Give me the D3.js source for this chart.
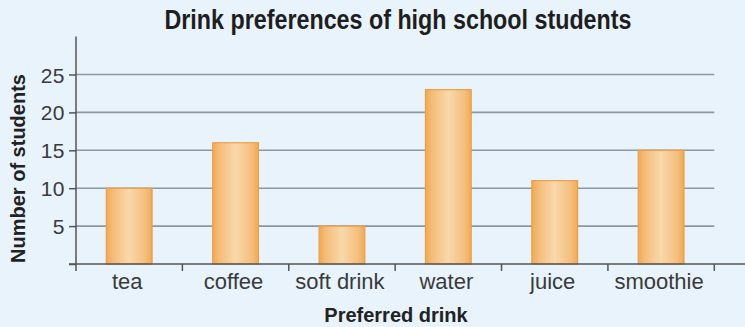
<!DOCTYPE html>
<html><head><meta charset="utf-8">
<script src="https://cdn.jsdelivr.net/npm/d3@7"></script>
<style>
html,body{margin:0;padding:0;background:#e8f3fb;}
svg{display:block;}
</style></head>
<body>
<svg id="chart" width="745" height="327"></svg>
<script>
const categories = ["tea", "coffee", "soft drink", "water", "juice", "smoothie"];
const values = [10, 16, 5, 23, 11, 15];
const yTicks = [5, 10, 15, 20, 25];
const title = "Drink preferences of high school students";
const xTitle = "Preferred drink";
const yTitle = "Number of students";

const svg = d3.select("#chart");
const W = 745, H = 327;
const mLeft = 76, mRight = 714.3, mTop = 36.6, mBottom = 264;

const x = d3.scaleBand().domain(categories).range([mLeft, mRight]).paddingInner(0.57).paddingOuter(0.285);
const y = d3.scaleLinear().domain([0, 30]).range([mBottom, mTop]);

svg.append("rect").attr("width", W).attr("height", H).attr("fill", "#e8f3fb");

const defs = svg.append("defs");
const grad = defs.append("linearGradient").attr("id", "barGrad").attr("x1", "0").attr("x2", "1").attr("y1", "0").attr("y2", "0");
grad.append("stop").attr("offset", "0").attr("stop-color", "#f0a954");
grad.append("stop").attr("offset", "0.15").attr("stop-color", "#f4bd7a");
grad.append("stop").attr("offset", "0.5").attr("stop-color", "#f9d8aa");
grad.append("stop").attr("offset", "0.85").attr("stop-color", "#f4bf7e");
grad.append("stop").attr("offset", "1").attr("stop-color", "#f0aa56");

// gridlines
svg.append("g").selectAll("line").data(yTicks).join("line")
  .attr("x1", mLeft).attr("x2", mRight)
  .attr("y1", d => y(d)).attr("y2", d => y(d))
  .attr("stroke", "#8d979e").attr("stroke-width", 1.6);

// bars
svg.append("g").selectAll("rect").data(values).join("rect")
  .attr("x", (d, i) => x(categories[i]))
  .attr("width", x.bandwidth())
  .attr("y", d => y(d))
  .attr("height", d => y(0) - y(d))
  .attr("fill", "url(#barGrad)")
  .attr("stroke", "#eb9f48").attr("stroke-width", 1.2);

// y axis
const yAxis = d3.axisLeft(y).tickValues([0].concat(yTicks)).tickSize(7).tickPadding(4).tickFormat(d => d === 0 ? "" : d);
const ya = svg.append("g").attr("transform", `translate(${mLeft},0)`).call(yAxis);
ya.select(".domain").remove();
ya.selectAll(".tick line").attr("stroke", "#555").attr("stroke-width", 1.5);
ya.selectAll("text").attr("font-family", "'Liberation Sans', Arial, sans-serif").attr("font-size", 21)
  .attr("fill", "#3a3a3a").attr("letter-spacing", 0.5).attr("dy", "0.36em");
svg.append("line").attr("x1", mLeft).attr("x2", mLeft).attr("y1", mTop).attr("y2", mBottom)
  .attr("stroke", "#555").attr("stroke-width", 1.5);

// x axis baseline and separator ticks
const step = x.step();
svg.append("line").attr("x1", mLeft - 7).attr("x2", W).attr("y1", mBottom).attr("y2", mBottom)
  .attr("stroke", "#555").attr("stroke-width", 1.5);
const boundaries = d3.range(categories.length + 1).map(i => mLeft + i * step);
svg.append("g").selectAll("line").data(boundaries).join("line")
  .attr("x1", d => d).attr("x2", d => d).attr("y1", mBottom).attr("y2", mBottom + 7)
  .attr("stroke", "#555").attr("stroke-width", 1.5);

svg.append("g").selectAll("text").data(categories).join("text")
  .attr("x", d => x(d) + x.bandwidth() / 2 - 2)
  .attr("y", 288.5)
  .attr("text-anchor", "middle")
  .attr("font-family", "'Liberation Sans', Arial, sans-serif").attr("font-size", 22)
  .attr("fill", "#3a3a3a")
  .text(d => d);

// titles
svg.append("text").attr("x", 398).attr("y", 29).attr("text-anchor", "middle")
  .attr("font-family", "'Liberation Sans Narrow', 'Liberation Sans', Arial, sans-serif")
  .attr("font-weight", "bold").attr("font-size", 27).attr("fill", "#1e1e1e")
  .attr("textLength", 467).attr("lengthAdjust", "spacingAndGlyphs")
  .text(title);

svg.append("text").attr("x", 396).attr("y", 321.5).attr("text-anchor", "middle")
  .attr("font-family", "'Liberation Sans', Arial, sans-serif")
  .attr("font-weight", "bold").attr("font-size", 20).attr("fill", "#222")
  .text(xTitle);

svg.append("text").attr("transform", "translate(25,168.5) rotate(-90)").attr("text-anchor", "middle")
  .attr("font-family", "'Liberation Sans', Arial, sans-serif")
  .attr("font-weight", "bold").attr("font-size", 20).attr("fill", "#222")
  .text(yTitle);
</script>
</body></html>
